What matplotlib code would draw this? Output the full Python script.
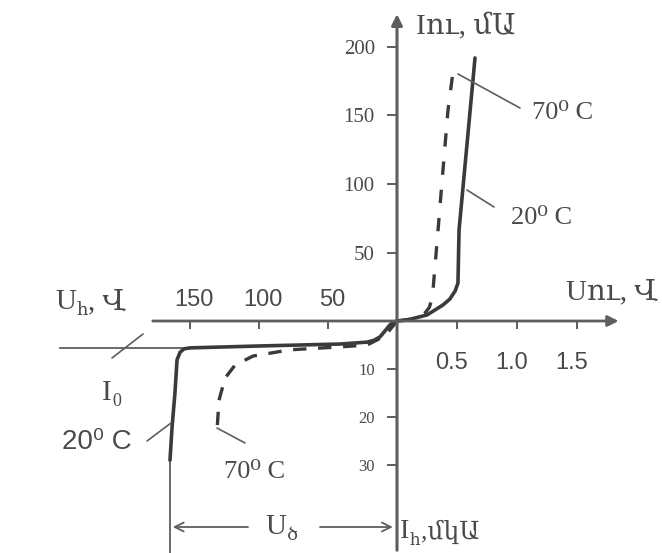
import numpy as np
import matplotlib
matplotlib.use("Agg")
import matplotlib.pyplot as plt
from matplotlib.ticker import FixedLocator, FuncFormatter

# ---------------- data ----------------
# forward branch: voltage (V), current (mA)
fwd20_u = [0, 0.083, 0.25, 0.383, 0.44, 0.485, 0.508, 0.517, 0.65]
fwd20_i = [0, 0.7, 4.4, 11.7, 16.0, 22.0, 27.7, 66.4, 192]
fwd70_u = [0, 0.125, 0.233, 0.27, 0.29, 0.30, 0.342, 0.383, 0.425, 0.467]
fwd70_i = [0, 1.5, 5.8, 10.0, 16.0, 22.6, 66.4, 110, 154, 182]
# reverse branch: voltage (V, negative), current (uA, negative)
rev20_u = [0, -3.0, -5.1, -8.5, -12.3, -16.5, -21.7, -41.3, -99.3, -150, -154.3, -157.2, -159.4, -160.9, -163, -164.5]
rev20_i = [0, -0.3, -0.8, -2.0, -3.3, -4.0, -4.4, -4.8, -5.2, -5.6, -5.8, -6.5, -8.1, -15, -22.1, -29]
rev70_u = [0, -8.7, -21.7, -41.3, -77.5, -104.3, -117.4, -124.6, -129, -130.4]
rev70_i = [0, -3.1, -5.0, -5.4, -6.0, -7.3, -9.2, -11.9, -16.5, -22.7]
i0_level = -5.6          # uA
i0_from = -244           # V
u_break = -164.5         # V

yticks_fwd = [50, 100, 150, 200]
yticks_rev = [-10, -20, -30]
xticks_fwd = [0.5, 1.0, 1.5]
xticks_rev = [-150, -100, -50]

# ---------------- style ----------------
W, H = 662, 553
KXN, KXP = 1.38, 120.0   # px per unit, x (reverse V / forward V)
KYP, KYN = 1.37, 4.8     # px per unit, y (forward mA / reverse uA)
OX, OY = 397, 321        # origin in pixels

CURVE = "#3a3a3a"
AXC = "#5e5e5e"
TXT = "#4a4a4a"
SERIF = ["Liberation Serif", "DejaVu Serif", "DejaVu Sans"]
SANS = ["Liberation Sans", "DejaVu Sans"]


def fx(u):
    u = np.asarray(u, float)
    return np.where(u < 0, u * KXN, u * KXP)


def fx_inv(v):
    v = np.asarray(v, float)
    return np.where(v < 0, v / KXN, v / KXP)


def fy(i):
    i = np.asarray(i, float)
    return np.where(i < 0, i * KYN, i * KYP)


def fy_inv(v):
    v = np.asarray(v, float)
    return np.where(v < 0, v / KYN, v / KYP)


def P(px, py):
    return px / W, 1 - py / H


fig = plt.figure(figsize=(W / 100, H / 100), dpi=100)
fig.patch.set_facecolor("white")
ax = fig.add_axes([0, 0, 1, 1])
ax.set_xscale("function", functions=(fx, fx_inv))
ax.set_yscale("function", functions=(fy, fy_inv))
ax.set_xlim(-OX / KXN, (W - OX) / KXP)
ax.set_ylim(-(H - OY) / KYN, OY / KYP)
ax.set_facecolor("none")

for s in ax.spines.values():
    s.set_color("none")
ax.spines["left"].set_position(("data", 0))
ax.spines["bottom"].set_position(("data", 0))

# ticks
ax.yaxis.set_major_locator(FixedLocator(yticks_rev + yticks_fwd))
ax.yaxis.set_major_formatter(FuncFormatter(lambda v, p: f"{abs(v):g}"))
ax.tick_params(axis="y", direction="out", length=7, width=1.4, color=AXC,
               labelcolor=TXT, pad=9)
ax.yaxis.set_minor_locator(FixedLocator([]))
ax.xaxis.set_major_locator(FixedLocator(xticks_rev + xticks_fwd))
ax.xaxis.set_major_formatter(FuncFormatter(lambda v, p: ""))
ax.xaxis.set_minor_locator(FixedLocator([]))
ax.tick_params(axis="x", direction="out", length=6, width=1.4, color=AXC)

fig.canvas.draw()
for lab, v in zip(ax.get_yticklabels(), yticks_rev + yticks_fwd):
    lab.set_family(SERIF)
    lab.set_fontsize(12 if v < 0 else 15)

# x tick labels
for v in xticks_fwd:
    ax.annotate(f"{v:.1f}", xy=(v, 0), xytext=(-4, -30), textcoords="offset points",
                ha="center", va="center", fontsize=17, family=SANS, color=TXT)
for v in xticks_rev:
    ax.annotate(f"{abs(v):g}", xy=(v, 0), xytext=(3, 15), textcoords="offset points",
                ha="center", va="center", fontsize=17, family=SANS, color=TXT)

# axes lines with arrows
xl, yl = ax.get_xlim(), ax.get_ylim()
ax.annotate("", xy=(1.87, 0), xytext=(-179, 0),
            arrowprops=dict(arrowstyle="-|>", color=AXC, lw=2, mutation_scale=16))
ax.annotate("", xy=(0, 226), xytext=(0, yl[0]),
            arrowprops=dict(arrowstyle="-|>", color=AXC, lw=2.2, mutation_scale=16))

# I0 level and breakdown marker
ax.plot([i0_from, rev20_u[9]], [i0_level, i0_level], color=AXC, lw=1.3)
ax.plot([u_break, u_break], [rev20_i[-1], yl[0]], color=AXC, lw=1.3)

# curves
ax.plot(fwd20_u, fwd20_i, color=CURVE, lw=2.6, solid_capstyle="round")
ax.plot(rev20_u, rev20_i, color=CURVE, lw=2.6, solid_capstyle="round")
ax.plot(fwd70_u, fwd70_i, color=CURVE, lw=2.4, linestyle=(0, (4, 4.5)))
ax.plot(rev70_u, rev70_i, color=CURVE, lw=2.4, linestyle=(0, (4, 3.5)))

# ---------------- labels ----------------
def ftext(px, py, s, size=20, fam=SERIF, ha="left", va="center"):
    return fig.text(*P(px, py), s, fontsize=size, family=fam, color=TXT, ha=ha, va=va)


def sub(prev, s, size=12, dy=-3):
    return ax.annotate(s, xy=(1, 0), xycoords=prev, xytext=(0.5, dy),
                       textcoords="offset points", fontsize=size, family=SERIF,
                       color=TXT, ha="left", va="bottom")


def after(prev, s, size=20):
    return ax.annotate(s, xy=(1, 0), xycoords=prev, xytext=(0, 3),
                       textcoords="offset points", fontsize=size, family=SERIF,
                       color=TXT, ha="left", va="bottom")


ftext(416, 27, "Iու, մԱ", 21)
ftext(566, 292, "Uու, Վ", 21)
t = ftext(55, 302, "U", 21)
t2 = sub(t, "հ", 13)
after(t2, ", Վ", 21)
t = ftext(400, 532, "I", 20)
t2 = sub(t, "հ", 12)
after(t2, ",մկԱ", 18)
t = ftext(265, 527, "U", 21)
sub(t, "ծ", 13)
t = ftext(102, 393, "I", 21)
sub(t, "0", 13)

ftext(563, 113, "70⁰ C", 19, ha="center")
ftext(542, 218, "20⁰ C", 19, ha="center")
ftext(97, 442, "20⁰ C", 20, fam=SANS, ha="center")
ftext(255, 472, "70⁰ C", 19, ha="center")

# leader lines (figure fraction)
def leader(p1, p2):
    ax.annotate("", xy=P(*p2), xycoords="figure fraction", xytext=P(*p1),
                textcoords="figure fraction",
                arrowprops=dict(arrowstyle="-", color=AXC, lw=1.2, shrinkA=0, shrinkB=0))


leader((520, 108), (458, 74))
leader((494, 207), (467, 190))
leader((112, 358), (143, 334))
leader((147, 441), (171, 423))
leader((245, 443), (217, 428))

# Uծ arrows
ax.annotate("", xy=(u_break, 0.047), xycoords=("data", "axes fraction"),
            xytext=P(248, 527), textcoords="figure fraction",
            arrowprops=dict(arrowstyle="->", color=AXC, lw=1.3, mutation_scale=16,
                            shrinkA=0, shrinkB=2))
ax.annotate("", xy=(0, 0.047), xycoords=("data", "axes fraction"),
            xytext=P(320, 527), textcoords="figure fraction",
            arrowprops=dict(arrowstyle="->", color=AXC, lw=1.3, mutation_scale=16,
                            shrinkA=0, shrinkB=3))

fig.savefig("out.png", dpi=100, facecolor="white")
